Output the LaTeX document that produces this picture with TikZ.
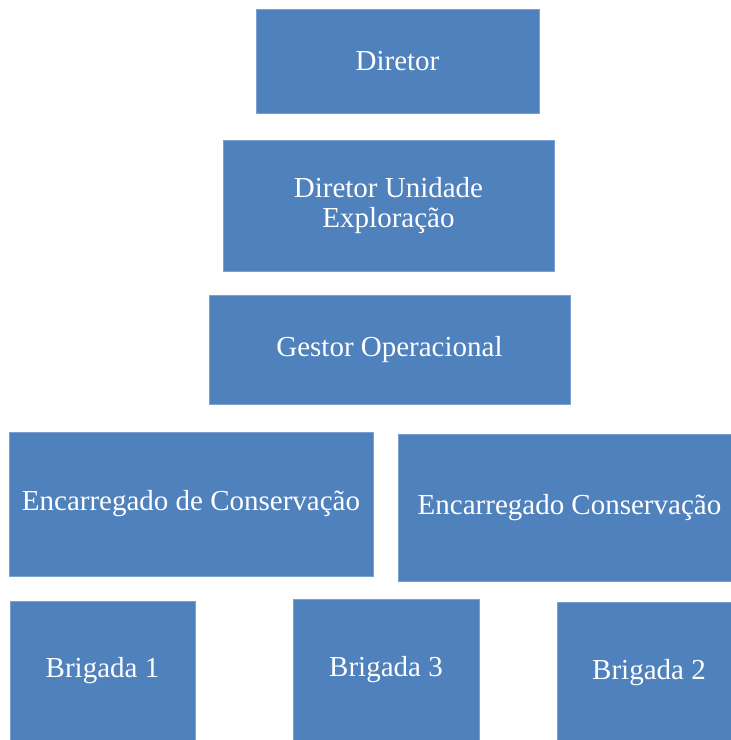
\documentclass[tikz,border=0pt]{standalone}
\usepackage{fontspec}
\setmainfont{Liberation Serif}
\usepackage{tikz}
\usetikzlibrary{positioning}
\definecolor{boxblue}{RGB}{79,129,189}
\definecolor{boxedge}{RGB}{125,160,210}
\tikzset{
    cargo/.style={
           rectangle,
           fill=boxblue,
           draw=boxedge, line width=0.8pt,
           text=white,
           inner sep=0pt,
           outer sep=0pt,
           align=center,
           font=\fontsize{29}{32}\selectfont,
           },
}

\begin{document}
\begin{tikzpicture}[x=1pt,y=1pt]
        % picture frame, same margins as the original chart
        \useasboundingbox (-397.5,61) rectangle (333.5,-679);

        % TOP: director
        \node[cargo,
            minimum width=283pt,
            minimum height=104pt] (O_DIRETOR) at (0,0)
        {Diretor};

        % unit director, below the director
        \node[cargo,
            minimum width=331pt,
            minimum height=131pt,
            below of=O_DIRETOR,
            node distance=144.5pt,
            xshift=-9pt,
            anchor=center] (O_UNIDADE)
        {Diretor Unidade\\[-2pt]Exploração};

        % operations manager
        \node[cargo,
            minimum width=361pt,
            minimum height=109pt,
            below of=O_UNIDADE,
            node distance=144pt,
            xshift=1pt,
            anchor=center] (O_GESTOR)
        {Gestor Operacional};

        % the two maintenance heads
        \node[cargo,
            minimum width=364pt,
            minimum height=144pt,
            below of=O_GESTOR,
            node distance=154.5pt,
            xshift=-198.5pt,
            anchor=center] (O_ENC_A)
        {Encarregado de Conservação};

        \node[cargo,
            minimum width=343pt,
            minimum height=147pt,
            right of=O_ENC_A,
            node distance=378.5pt,
            yshift=-3.5pt,
            anchor=center] (O_ENC_B)
        {Encarregado Conservação};

        % brigades (cut by the bottom edge)
        \node[cargo,
            minimum width=185pt,
            minimum height=140pt,
            below of=O_ENC_A,
            node distance=167pt,
            xshift=-88.5pt,
            anchor=center] (O_BRIG_1)
        {Brigada 1};

        \node[cargo,
            minimum width=186pt,
            minimum height=142pt,
            right of=O_BRIG_1,
            node distance=283.5pt,
            yshift=1pt,
            anchor=center] (O_BRIG_3)
        {Brigada 3};

        \node[cargo,
            minimum width=184pt,
            minimum height=142pt,
            right of=O_BRIG_3,
            node distance=263pt,
            yshift=-3pt,
            anchor=center] (O_BRIG_2)
        {Brigada 2};

\end{tikzpicture}
\end{document}
